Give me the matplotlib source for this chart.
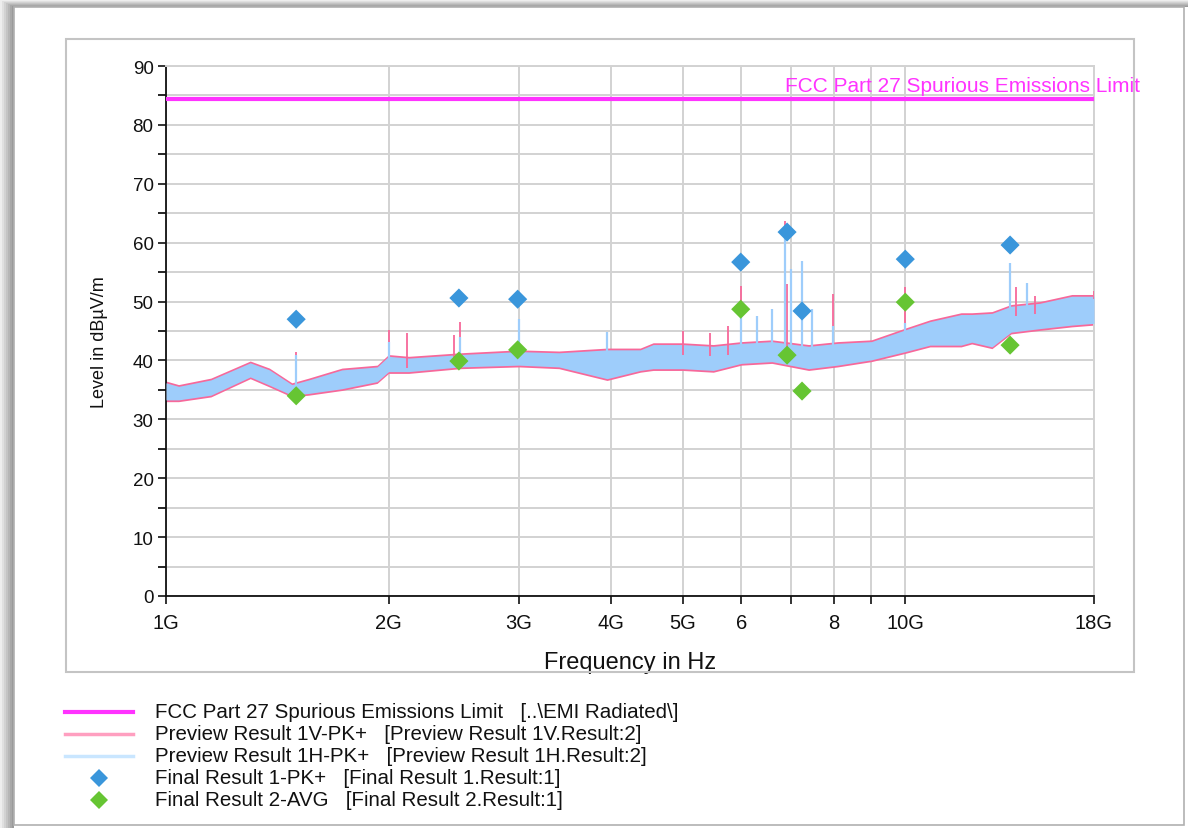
"""EMI radiated emissions plot, 1 GHz - 18 GHz."""

import matplotlib

matplotlib.use("Agg")
import matplotlib.pyplot as plt
import numpy as np
from matplotlib.lines import Line2D
from matplotlib.patches import Rectangle

plt.rcParams["font.family"] = ["Liberation Sans", "DejaVu Sans"]

# limit line (dBuV/m)
limit_level = 84.4
limit_label = "FCC Part 27 Spurious Emissions Limit"

# preview trace envelopes (GHz, dBuV/m)
env_freq = [1.0, 1.04, 1.15, 1.3, 1.38, 1.48, 1.56, 1.73, 1.93, 2.0, 2.13, 2.5, 3.0,
            3.4, 3.95, 4.38, 4.56, 5.0, 5.5, 6.0, 6.6, 7.4, 8.1, 9.0, 10.0, 10.8,
            11.9, 12.3, 13.1, 13.9, 15.2, 16.8, 18.0]
v_lower = [33.0, 33.0, 33.8, 36.9, 35.5, 33.8, 34.1, 34.9, 36.1, 37.8, 37.8, 38.6, 38.9,
           38.6, 36.6, 38.0, 38.3, 38.3, 38.0, 39.2, 39.5, 38.3, 38.9, 39.8, 41.2, 42.3,
           42.3, 42.8, 42.0, 44.5, 45.1, 45.7, 46.0]
v_upper = [36.5, 35.9, 37.0, 39.9, 38.7, 36.2, 37.0, 38.7, 39.2, 41.0, 40.7, 41.3, 41.8,
           41.6, 42.1, 42.1, 43.0, 43.0, 42.7, 43.2, 43.5, 42.7, 43.2, 43.5, 45.5, 46.9,
           48.1, 48.1, 48.3, 49.5, 50.0, 51.2, 51.2]
h_lower = [33.3, 33.3, 34.1, 37.2, 35.8, 34.1, 34.4, 35.2, 36.4, 38.1, 38.1, 38.9, 39.2,
           38.9, 36.9, 38.3, 38.6, 38.6, 38.3, 39.5, 39.8, 38.6, 39.2, 40.1, 41.5, 42.6,
           42.6, 43.1, 42.3, 44.8, 45.4, 46.0, 46.3]
h_upper = [36.2, 35.6, 36.7, 39.6, 38.4, 35.9, 36.7, 38.4, 38.9, 40.7, 40.4, 41.0, 41.5,
           41.3, 41.8, 41.8, 42.7, 42.7, 42.4, 42.9, 43.2, 42.4, 42.9, 43.2, 45.2, 46.6,
           47.8, 47.8, 48.0, 49.2, 49.7, 50.9, 50.9]

# narrow spikes standing out of the traces
v_spike_freq = [1.5, 2.0, 2.12, 2.45, 2.5, 5.0, 5.45, 5.75, 6.0, 6.88, 6.92, 7.48, 7.98,
                10.0, 14.1, 15.0, 18.0]
v_spike_level = [41.5, 45.2, 44.7, 44.3, 46.6, 45.0, 44.7, 45.9, 52.7, 63.7, 53.0, 48.7,
                 51.2, 52.4, 52.4, 51.0, 51.8]
h_spike_freq = [1.5, 2.0, 2.5, 3.0, 3.95, 6.0, 6.3, 6.6, 6.88, 7.0, 7.25, 7.48, 7.98,
                10.0, 13.86, 14.6, 18.0]
h_spike_level = [41.0, 43.1, 44.0, 47.0, 44.8, 48.5, 47.6, 48.7, 61.7, 55.5, 56.9, 48.7,
                 45.9, 46.4, 56.6, 53.2, 50.4]

# final measurements
final_freq = [1.5, 2.49, 2.99, 5.99, 6.92, 7.25, 10.0, 13.86]
final_pk = [47.0, 50.6, 50.4, 56.7, 61.8, 48.4, 57.2, 59.6]
final_avg = [34.0, 39.9, 41.8, 48.7, 40.9, 34.8, 49.9, 42.6]

x_ticks = [1, 2, 3, 4, 5, 6, 7, 8, 9, 10, 18]
x_tick_labels = ["1G", "2G", "3G", "4G", "5G", "6", "", "8", "", "10G", "18G"]

legend_labels = [
    "FCC Part 27 Spurious Emissions Limit   [..\\EMI Radiated\\]",
    "Preview Result 1V-PK+   [Preview Result 1V.Result:2]",
    "Preview Result 1H-PK+   [Preview Result 1H.Result:2]",
    "Final Result 1-PK+   [Final Result 1.Result:1]",
    "Final Result 2-AVG   [Final Result 2.Result:1]",
]

LIMIT_C = "#FF33FF"
V_C = "#F7689A"
V_LEG = "#FF9FC0"
H_C = "#9ECDFB"
H_LEG = "#C9E6FF"
PK_C = "#3A96DB"
AVG_C = "#66C533"
GRID_C = "#D2D2D2"
TEXT_C = "#111111"

W, H = 1188, 829
fig = plt.figure(figsize=(W / 100, H / 100), dpi=100, facecolor="white")


def px_rect(x0, y0, x1, y1, **kw):
    fig.patches.append(Rectangle((x0 / W, 1 - y1 / H), (x1 - x0) / W, (y1 - y0) / H,
                                 transform=fig.transFigure, figure=fig, **kw))


# page shadow and frames
for i, g in enumerate(["#9a9a9a", "#a8a8a8", "#b6b6b6", "#c4c4c4", "#d2d2d2", "#e0e0e0", "#eeeeee"]):
    px_rect(0, 0, 14 - 2 * i, H, facecolor=g, edgecolor="none")
    px_rect(0, 0, W, 8 - i, facecolor=g, edgecolor="none")
px_rect(14, 8, 1184, 826, facecolor="none", edgecolor="#b0b0b0", linewidth=1.2)
px_rect(66, 40, 1134, 673, facecolor="none", edgecolor="#c4c4c4", linewidth=1.5)

ax = fig.add_axes([166 / W, 1 - 597 / H, (1094 - 166) / W, (597 - 67) / H])
ax.set_xscale("log")
ax.set_xlim(1, 18)
ax.set_ylim(0, 90)

ax.xaxis.set_major_locator(matplotlib.ticker.FixedLocator(x_ticks))
ax.xaxis.set_major_formatter(matplotlib.ticker.FixedFormatter(x_tick_labels))
ax.xaxis.set_minor_locator(matplotlib.ticker.NullLocator())
ax.yaxis.set_major_locator(matplotlib.ticker.MultipleLocator(10))
ax.yaxis.set_minor_locator(matplotlib.ticker.MultipleLocator(5))
ax.grid(True, which="both", color=GRID_C, linewidth=1.4, zorder=0)
ax.set_axisbelow(True)
ax.tick_params(axis="both", which="major", direction="out", length=6, width=1.2,
               colors=TEXT_C)
ax.tick_params(axis="x", labelsize=14.5, pad=6)
ax.tick_params(axis="y", labelsize=13.5, pad=3)
ax.tick_params(axis="y", which="minor", direction="out", length=6, width=1.2)
for side in ("top", "right"):
    ax.spines[side].set_color(GRID_C)
    ax.spines[side].set_linewidth(1.4)
for side in ("left", "bottom"):
    ax.spines[side].set_color(TEXT_C)
    ax.spines[side].set_linewidth(1.3)

# preview traces
ax.fill_between(env_freq, v_lower, v_upper, color=V_C, linewidth=0, zorder=2)
ax.fill_between(env_freq, h_lower, h_upper, color=H_C, linewidth=0, zorder=3)
v_base = np.interp(v_spike_freq, env_freq, v_upper)
h_base = np.interp(h_spike_freq, env_freq, h_upper)
ax.vlines(v_spike_freq, v_base - 2, v_spike_level, color=V_C, linewidth=1.3, zorder=3)
ax.vlines(h_spike_freq, h_base - 2, h_spike_level, color=H_C, linewidth=1.6, zorder=4)

# limit
ax.axhline(limit_level, color=LIMIT_C, linewidth=3, zorder=5)
ax.text((1140 - 166) / (1094 - 166), limit_level + 0.6, limit_label,
        transform=ax.get_yaxis_transform(), ha="right", va="bottom",
        color=LIMIT_C, fontsize=15, clip_on=False)

# final results
ax.scatter(final_freq, final_pk, marker="D", s=95, color=PK_C, edgecolor="none", zorder=6)
ax.scatter(final_freq, final_avg, marker="D", s=95, color=AVG_C, edgecolor="none", zorder=6)

ax.set_xlabel("Frequency in Hz", fontsize=17, labelpad=14, color=TEXT_C)
ax.set_ylabel("Level in dBµV/m", fontsize=13, color=TEXT_C)
ax.yaxis.set_label_coords(-0.0625, 0.48)

# legend below the chart, one row every 22 px
row_y = [713, 735, 757, 779, 801]
styles = [
    dict(color=LIMIT_C, linewidth=3),
    dict(color=V_LEG, linewidth=2.5),
    dict(color=H_LEG, linewidth=2.5),
    dict(color=PK_C, marker="D", linestyle="none", markersize=9, markeredgewidth=0),
    dict(color=AVG_C, marker="D", linestyle="none", markersize=9, markeredgewidth=0),
]
for y, label, st in zip(row_y, legend_labels, styles):
    yf = 1 - y / H
    if st.get("marker"):
        fig.lines.append(Line2D([99 / W], [yf], transform=fig.transFigure, figure=fig, **st))
    else:
        fig.lines.append(Line2D([65 / W, 133 / W], [yf, yf], transform=fig.transFigure,
                                figure=fig, **st))
    fig.text(155 / W, yf, label, ha="left", va="center", fontsize=14.8, color=TEXT_C)

fig.savefig("out.png", dpi=100, facecolor="white")
